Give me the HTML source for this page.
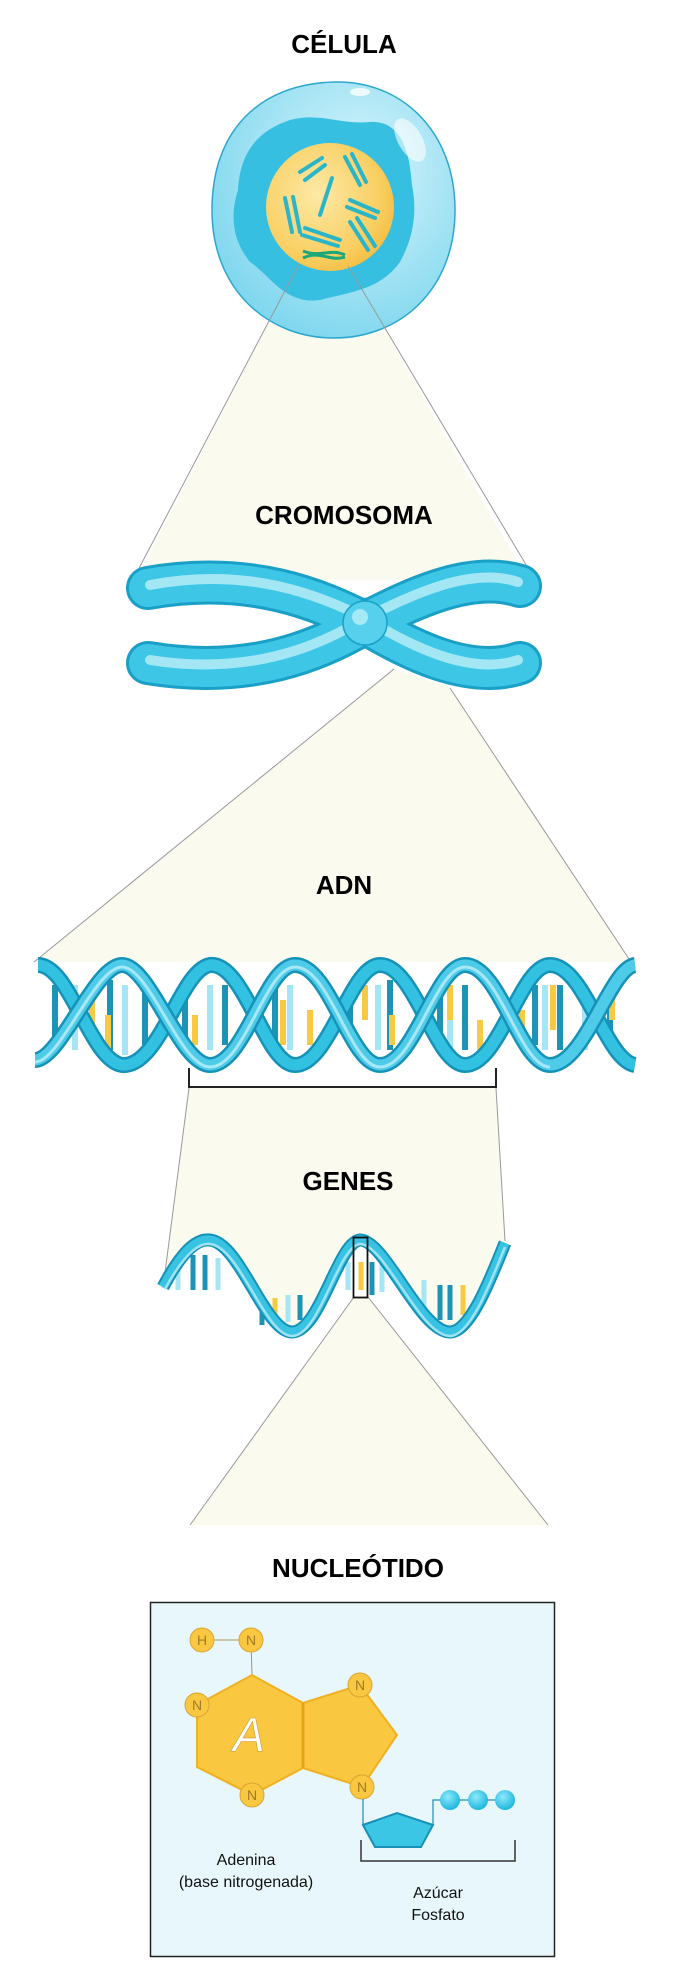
<!DOCTYPE html>
<html><head><meta charset="utf-8"><style>
html,body{margin:0;padding:0;background:#fff}
svg{display:block}
text{font-family:"Liberation Sans",sans-serif}
</style></head><body>
<svg width="682" height="1967" viewBox="0 0 682 1967" xmlns="http://www.w3.org/2000/svg">
<defs>
<radialGradient id="nuc" cx="0.4" cy="0.4" r="0.7"><stop offset="0" stop-color="#fde9a6"/><stop offset="0.7" stop-color="#f9cf62"/><stop offset="1" stop-color="#f4b93a"/></radialGradient>
<radialGradient id="cell" cx="0.6" cy="0.35" r="0.7"><stop offset="0" stop-color="#d8f5fc"/><stop offset="1" stop-color="#7dd6ee"/></radialGradient>
<radialGradient id="ball" cx="0.4" cy="0.35" r="0.7"><stop offset="0" stop-color="#8fe9fb"/><stop offset="1" stop-color="#14b4dc"/></radialGradient>
</defs>

<!-- zoom funnels (fills) -->
<polygon points="299,264 348,266 528,580 136,580" fill="#fafaef"/>
<polygon points="394,669 450,688 631,962 34,962" fill="#fafaef"/>
<path d="M189,1088 L496,1088 L505,1243 C490,1280 470,1332 450,1332 C420,1332 385,1240 360,1240 C338,1242 320,1332 292,1332 C265,1332 240,1243 210,1240 C195,1238 180,1255 163,1287 Z" fill="#fafaef"/>
<polygon points="354,1297 368,1297 548,1525 190,1525" fill="#fafaef"/>
<g stroke="#999" stroke-width="1">
<line x1="394" y1="669" x2="34" y2="962"/><line x1="450" y1="688" x2="631" y2="962"/>
<line x1="189" y1="1088" x2="163" y2="1288"/><line x1="496" y1="1088" x2="505" y2="1241"/>
<line x1="354" y1="1297" x2="190" y2="1525"/><line x1="368" y1="1297" x2="548" y2="1525"/>
</g>

<!-- titles -->
<g font-weight="bold" font-size="26" fill="#000" text-anchor="middle">
<text x="344" y="53">CÉLULA</text>
<text x="344" y="524">CROMOSOMA</text>
<text x="344" y="894">ADN</text>
<text x="348" y="1190">GENES</text>
<text x="358" y="1577">NUCLEÓTIDO</text>
</g>

<!-- cell -->
<path d="M334,82 C400,80 455,130 455,210 C455,290 400,338 334,338 C268,338 212,290 212,210 C212,130 260,84 334,82 Z" fill="url(#cell)" stroke="#2aa7cf" stroke-width="1.5"/>
<path d="M290,120 C320,112 340,125 370,122 C405,120 410,160 412,185 C418,215 412,240 400,262 C380,290 350,292 320,300 C285,305 270,275 250,262 C232,240 230,215 238,190 C240,150 260,130 290,120 Z" fill="#36bfe0"/>
<circle cx="330" cy="207" r="64" fill="url(#nuc)"/>
<g stroke="#2bb5c9" stroke-width="4" stroke-linecap="round" fill="none">
<path d="M300,172 L322,158 M305,180 L325,165"/><path d="M345,157 L360,185 M352,154 L366,182"/>
<path d="M320,215 L332,178"/><path d="M285,198 L292,232 M293,197 L300,232"/>
<path d="M350,200 L378,212 M347,207 L375,218"/><path d="M305,228 L340,240 M302,235 L338,246"/>
<path d="M350,222 L368,250 M357,218 L375,246"/>
</g>
<g stroke="#1aa77a" stroke-width="3" fill="none"><path d="M303,251 C320,258 330,248 345,255"/><path d="M303,258 C320,250 330,262 345,257"/></g>
<ellipse cx="410" cy="140" rx="12" ry="24" fill="#fff" opacity="0.6" transform="rotate(-30 410 140)"/>
<ellipse cx="360" cy="92" rx="10" ry="4" fill="#fff" opacity="0.8"/>
<g stroke="#999" stroke-width="1"><line x1="299" y1="264" x2="136" y2="574"/><line x1="348" y1="266" x2="528" y2="568"/></g>

<!-- chromosome -->
<g fill="none" stroke-linecap="round">
<path d="M148,588 C250,570 320,600 365,623 C410,600 470,570 520,586" stroke="#1a9fc7" stroke-width="44"/>
<path d="M148,663 C250,680 320,650 365,623 C410,650 470,680 520,663" stroke="#1a9fc7" stroke-width="44"/>
<path d="M148,588 C250,570 320,600 365,623 C410,600 470,570 520,586" stroke="#3dc6e6" stroke-width="38"/>
<path d="M148,663 C250,680 320,650 365,623 C410,650 470,680 520,663" stroke="#3dc6e6" stroke-width="38"/>
<path d="M150,585 C250,566 320,596 365,618 C410,596 470,566 518,582" stroke="#bdeef8" stroke-width="10" opacity="0.8"/>
<path d="M150,660 C250,676 320,646 365,618 C410,646 470,676 518,660" stroke="#bdeef8" stroke-width="10" opacity="0.8"/>
</g>
<circle cx="365" cy="623" r="22" fill="#56d0ec" stroke="#1a9fc7" stroke-width="1.5"/>
<circle cx="360" cy="617" r="8" fill="#c8f3fc" opacity="0.7"/>

<!-- DNA -->
<g stroke-width="6">
<g stroke="#1d94b6">
<line x1="55" y1="985" x2="55" y2="1050"/><line x1="110" y1="980" x2="110" y2="1050"/><line x1="145" y1="985" x2="145" y2="1045"/>
<line x1="185" y1="980" x2="185" y2="1050"/><line x1="225" y1="985" x2="225" y2="1045"/><line x1="275" y1="985" x2="275" y2="1045"/>
<line x1="350" y1="985" x2="350" y2="1045"/><line x1="390" y1="980" x2="390" y2="1050"/><line x1="440" y1="980" x2="440" y2="1050"/>
<line x1="465" y1="985" x2="465" y2="1050"/><line x1="535" y1="985" x2="535" y2="1045"/><line x1="560" y1="985" x2="560" y2="1050"/><line x1="610" y1="985" x2="610" y2="1050"/>
</g>
<g stroke="#a6e6f4">
<line x1="75" y1="985" x2="75" y2="1050"/><line x1="125" y1="985" x2="125" y2="1055"/><line x1="210" y1="985" x2="210" y2="1050"/>
<line x1="290" y1="985" x2="290" y2="1050"/><line x1="378" y1="985" x2="378" y2="1050"/><line x1="450" y1="985" x2="450" y2="1050"/><line x1="545" y1="985" x2="545" y2="1050"/><line x1="585" y1="985" x2="585" y2="1050"/>
</g>
<g stroke="#f8c943">
<line x1="92" y1="1000" x2="92" y2="1035"/><line x1="108" y1="1015" x2="108" y2="1050"/><line x1="195" y1="1015" x2="195" y2="1045"/>
<line x1="283" y1="1000" x2="283" y2="1045"/><line x1="310" y1="1010" x2="310" y2="1045"/><line x1="365" y1="985" x2="365" y2="1020"/>
<line x1="392" y1="1015" x2="392" y2="1045"/><line x1="450" y1="985" x2="450" y2="1020"/><line x1="480" y1="1020" x2="480" y2="1050"/>
<line x1="522" y1="1010" x2="522" y2="1045"/><line x1="553" y1="985" x2="553" y2="1030"/><line x1="612" y1="985" x2="612" y2="1020"/>
</g>
</g>
<g fill="none" stroke-linecap="butt">
<path d="M38,965 C70,965 90,1060 122,1065 C160,1068 180,970 210,965 C245,962 265,1065 295,1065 C330,1065 350,965 380,965 C415,965 435,1065 465,1065 C500,1065 520,965 550,965 C585,965 605,1060 635,1065" stroke="#1592b8" stroke-width="16"/>
<path d="M38,965 C70,965 90,1060 122,1065 C160,1068 180,970 210,965 C245,962 265,1065 295,1065 C330,1065 350,965 380,965 C415,965 435,1065 465,1065 C500,1065 520,965 550,965 C585,965 605,1060 635,1065" stroke="#33c1e2" stroke-width="11"/>
<path d="M35,1060 C60,1060 95,965 122,965 C150,965 180,1065 210,1065 C245,1065 265,965 295,965 C330,965 350,1065 380,1065 C415,1065 435,965 465,965 C500,965 520,1065 550,1065 C585,1065 610,968 635,965" stroke="#1592b8" stroke-width="16"/>
<path d="M35,1060 C60,1060 95,965 122,965 C150,965 180,1065 210,1065 C245,1065 265,965 295,965 C330,965 350,1065 380,1065 C415,1065 435,965 465,965 C500,965 520,1065 550,1065 C585,1065 610,968 635,965" stroke="#4dcbe8" stroke-width="11"/>
<path d="M35,1062 C60,1062 95,967 122,967 C150,967 180,1067 210,1067 C245,1067 265,967 295,967 C330,967 350,1067 380,1067 C415,1067 435,967 465,967 C500,967 520,1067 550,1067" stroke="#a8e8f6" stroke-width="3"/>
</g>
<polyline points="189,1068 189,1087 496,1087 496,1068" fill="none" stroke="#222" stroke-width="2"/>

<!-- genes -->
<g stroke-width="5">
<g stroke="#1d94b6"><line x1="193" y1="1255" x2="193" y2="1290"/><line x1="205" y1="1255" x2="205" y2="1290"/><line x1="262" y1="1295" x2="262" y2="1325"/><line x1="300" y1="1295" x2="300" y2="1320"/><line x1="372" y1="1262" x2="372" y2="1295"/><line x1="440" y1="1285" x2="440" y2="1320"/><line x1="450" y1="1285" x2="450" y2="1320"/></g>
<g stroke="#a6e6f4"><line x1="178" y1="1262" x2="178" y2="1290"/><line x1="218" y1="1258" x2="218" y2="1290"/><line x1="288" y1="1295" x2="288" y2="1322"/><line x1="348" y1="1262" x2="348" y2="1290"/><line x1="382" y1="1262" x2="382" y2="1292"/><line x1="424" y1="1280" x2="424" y2="1315"/></g>
<g stroke="#f8c943"><line x1="275" y1="1298" x2="275" y2="1325"/><line x1="361" y1="1262" x2="361" y2="1290"/><line x1="463" y1="1285" x2="463" y2="1315"/></g>
</g>
<g fill="none">
<path d="M163,1287 C180,1255 195,1238 210,1240 C240,1243 265,1332 292,1332 C320,1332 338,1242 360,1240 C385,1240 420,1332 450,1332 C470,1332 490,1280 505,1243" stroke="#1592b8" stroke-width="13"/>
<path d="M163,1287 C180,1255 195,1238 210,1240 C240,1243 265,1332 292,1332 C320,1332 338,1242 360,1240 C385,1240 420,1332 450,1332 C470,1332 490,1280 505,1243" stroke="#38c3e3" stroke-width="9"/>
<path d="M165,1289 C182,1258 197,1242 210,1244 C240,1247 265,1336 292,1336 C320,1336 338,1246 360,1244 C385,1244 420,1336 450,1336 C470,1336 490,1284 505,1247" stroke="#9fe3f3" stroke-width="2.5"/>
</g>
<rect x="353.5" y="1237.5" width="14" height="60" fill="none" stroke="#111" stroke-width="1.8"/>

<!-- nucleotide box -->
<rect x="150.5" y="1602.5" width="404" height="354" fill="#e8f7fc" stroke="#222" stroke-width="1.5"/>
<line x1="202" y1="1640" x2="251" y2="1640" stroke="#a8955a" stroke-width="1"/>
<line x1="251" y1="1640" x2="252" y2="1675" stroke="#a8955a" stroke-width="1"/>
<polygon points="252,1675 303,1703 303,1768 252,1795 197,1767 197,1705" fill="#f9c740" stroke="#f0b020" stroke-width="2"/>
<polygon points="303,1703 360,1685 397,1735 362,1787 303,1768" fill="#f9c740" stroke="#f0b020" stroke-width="2"/>
<line x1="303" y1="1703" x2="303" y2="1768" stroke="#e8a418" stroke-width="3"/>
<text x="249" y="1751" font-size="48" font-style="italic" fill="#fff" stroke="#c99a30" stroke-width="0.6" text-anchor="middle">A</text>
<g fill="#f9c740" stroke="#d9a530" stroke-width="1">
<circle cx="202" cy="1640" r="12"/><circle cx="251" cy="1640" r="12"/><circle cx="197" cy="1705" r="12"/>
<circle cx="252" cy="1795" r="12"/><circle cx="360" cy="1685" r="12"/><circle cx="362" cy="1787" r="12"/>
</g>
<g font-size="14" fill="#a07a2a" text-anchor="middle">
<text x="202" y="1645">H</text><text x="251" y="1645">N</text><text x="197" y="1710">N</text>
<text x="252" y="1800">N</text><text x="360" y="1690">N</text><text x="362" y="1792">N</text>
</g>
<polyline points="363,1799 363,1825" fill="none" stroke="#1a8fb8" stroke-width="1.2"/>
<polyline points="433,1825 433,1800 505,1800" fill="none" stroke="#1a8fb8" stroke-width="1.2"/>
<polygon points="363,1825 397,1813 433,1825 421,1847 375,1847" fill="#3cc6e6" stroke="#1a8fb8" stroke-width="2"/>
<circle cx="450" cy="1800" r="10" fill="url(#ball)"/><circle cx="478" cy="1800" r="10" fill="url(#ball)"/><circle cx="505" cy="1800" r="10" fill="url(#ball)"/>
<polyline points="361,1840 361,1861 515,1861 515,1840" fill="none" stroke="#333" stroke-width="1.5"/>
<g font-size="16" fill="#111" text-anchor="middle">
<text x="246" y="1865">Adenina</text><text x="246" y="1887">(base nitrogenada)</text>
<text x="438" y="1898">Azúcar</text><text x="438" y="1920">Fosfato</text>
</g>
</svg>
</body></html>
